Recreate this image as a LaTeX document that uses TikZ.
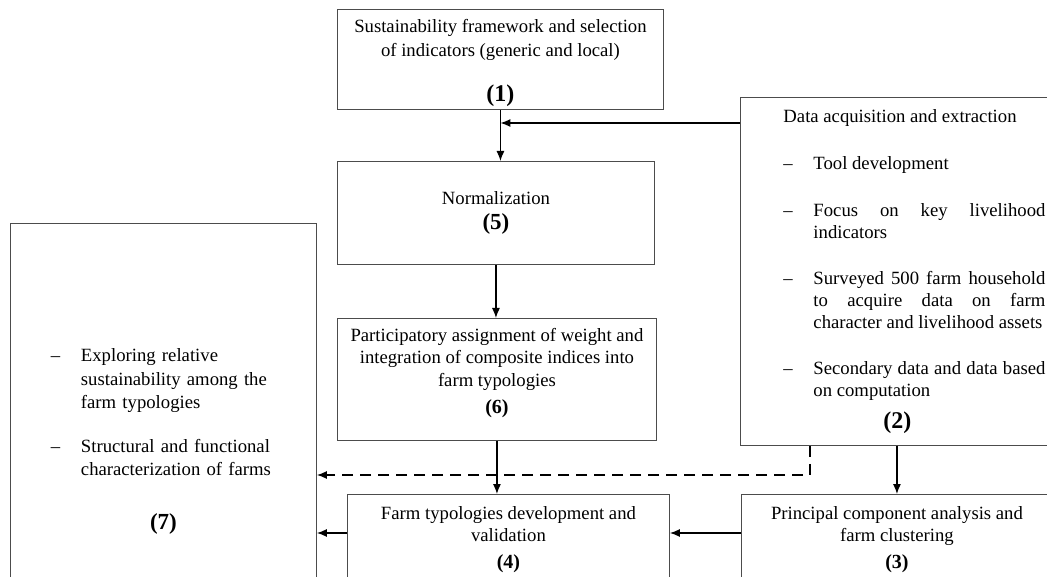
\documentclass[tikz,border=0pt]{standalone}
\usepackage{fontspec}
\setmainfont{Liberation Serif}
\usetikzlibrary{arrows.meta}

\hyphenpenalty=10000
\exhyphenpenalty=10000

% bold step number, size as optional argument
\newcommand{\stepno}[2][20]{{\fontsize{#1}{#1}\selectfont\bfseries(#2)}}
% extra depth below a line
\newcommand{\lowpad}[1]{\rule[-#1]{0pt}{#1}}
% item with a hanging dash
\newcommand{\dashitem}[1]{\noindent\hangindent=30pt\hangafter=1\makebox[30pt][l]{--}#1\par}

\begin{document}
\begin{tikzpicture}[x=1pt, y=-1pt,
    stepbox/.style = {draw=black!70, line width=0.9pt, inner sep=0pt,
      align=center, anchor=north west,
      font=\fontsize{18.7}{22.5}\selectfont},
    flow/.style = {-{Latex[length=10pt,width=8pt]}, line width=1.2pt}]
  \useasboundingbox (0,0) rectangle (1047,577);

  % boxes
  \node[stepbox, minimum width=326pt, minimum height=100pt,
    font=\fontsize{18.7}{24}\selectfont] (frame) at (337,9)
    {\rule{0pt}{20pt}Sustainability framework and selection\\
     of indicators (generic and local)\\[21pt]
     \stepno[24]{1}};
  \node[stepbox, minimum width=317pt, minimum height=103pt] (norm) at (337,161)
    {Normalization\\[2.5pt] \stepno[23]{5}};
  \node[stepbox, minimum width=319pt, minimum height=122pt] (weight) at (337,318)
    {Participatory assignment of weight and\\
     integration of composite indices into\\
     farm typologies\\[4.5pt]
     \stepno{6}\lowpad{18pt}};
  \node[stepbox, minimum width=322pt, minimum height=90pt] (typo) at (347,494)
    {Farm typologies development and\\ validation\\[4.5pt] \stepno{4}};
  \node[stepbox, minimum width=311pt, minimum height=90pt] (pca) at (741,494)
    {Principal component analysis and\\ farm clustering\\[4.5pt] \stepno{3}};
  \node[stepbox, text width=262pt, inner xsep=43pt, minimum height=348pt,
    align=justify, font=\fontsize{18.7}{22}\selectfont] (acq) at (740,97)
    {\noindent Data acquisition and extraction\par\vspace{25pt}
     \dashitem{Tool development}\vspace{25pt}
     \dashitem{Focus on key livelihood indicators}\vspace{24pt}
     \dashitem{Surveyed 500 farm household to acquire data on farm character and livelihood assets}\vspace{24pt}
     \dashitem{Secondary data and data based on computation}\vspace{10.5pt}
     \noindent\makebox[228pt]{\stepno[24]{2}}};
  \node[stepbox, text width=225pt, inner xsep=40.5pt, minimum height=436pt,
    align=left, font=\fontsize{18.7}{23.3}\selectfont] (explore) at (10,223)
    {\dashitem{Exploring relative sustainability among the farm typologies}\vspace{21pt}
     \dashitem{Structural and functional characterization of farms}\vspace{30pt}
     \noindent\makebox[225pt]{\stepno[23]{7}}};

  % connectors
  \coordinate (merge) at (frame.south |- 0,123);
  \coordinate (dbend) at (810,475);
  \coordinate (lowrow) at (0,533);
  \draw[flow] (frame.south) -- (frame.south |- norm.north);
  \draw[flow] (merge -| acq.west) -- (merge);
  \draw[flow] (norm.south) -- (norm.south |- weight.north);
  \draw[flow] (weight.south) -- (weight.south |- typo.north);
  \draw[flow] (acq.south -| pca.north) -- (pca.north);
  \draw[flow, dashed, dash pattern=on 11pt off 7pt] (acq.south -| dbend) -- (dbend) -- (dbend -| explore.east);
  \draw[flow] (pca.west |- lowrow) -- (typo.east |- lowrow);
  \draw[flow] (typo.west |- lowrow) -- (explore.east |- lowrow);
\end{tikzpicture}
\end{document}
